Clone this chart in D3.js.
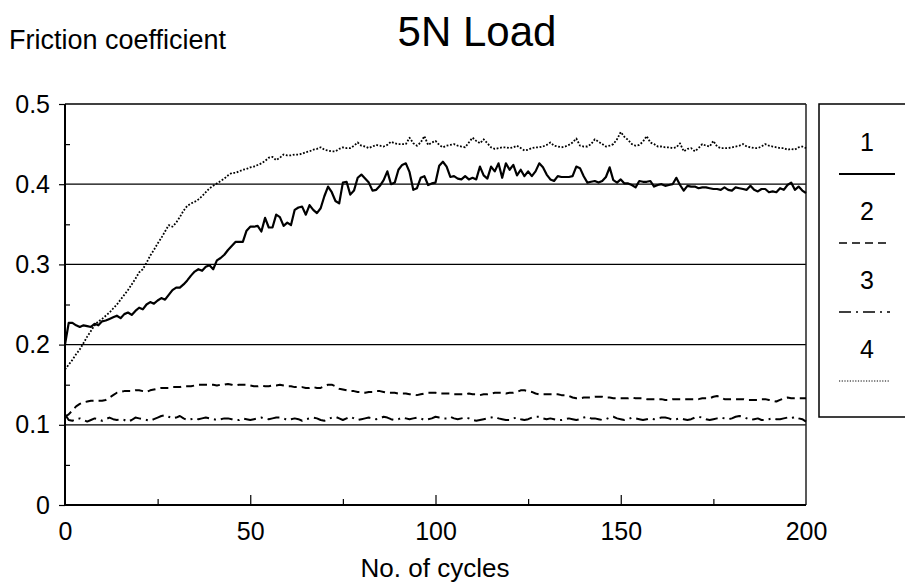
<!DOCTYPE html>
<html><head><meta charset="utf-8">
<script src="https://cdn.jsdelivr.net/npm/d3@7"></script>
<style>body{margin:0;background:#fff}svg{display:block;font-family:"Liberation Sans",Arial,sans-serif}</style>
</head><body><svg id="c" width="905" height="583"></svg>
<script>
const title = "5N Load";
const yTitle = "Friction coefficient";
const xTitle = "No. of cycles";
const xTicks = [0, 50, 100, 150, 200];
const xMinor = [25, 75, 125, 175];
const yTicks = [0, 0.1, 0.2, 0.3, 0.4, 0.5];
const yMinor = [0.05, 0.15, 0.25, 0.35, 0.45];
const gridVals = [0.1, 0.2, 0.3, 0.4];
const seriesNames = ["1", "2", "3", "4"];

// series 1 (solid), one value per cycle 0..200
const s1 = [0.200,0.227,0.227,0.224,0.222,0.224,0.223,0.222,0.226,0.224,0.229,0.230,0.232,0.234,0.236,0.233,0.238,0.240,0.237,0.242,
0.246,0.244,0.250,0.253,0.251,0.255,0.258,0.256,0.262,0.268,0.271,0.271,0.275,0.280,0.286,0.291,0.294,0.292,0.297,0.299,
0.294,0.305,0.308,0.312,0.318,0.323,0.328,0.328,0.328,0.342,0.347,0.347,0.348,0.341,0.358,0.346,0.346,0.362,0.359,0.348,
0.352,0.349,0.368,0.371,0.372,0.362,0.374,0.368,0.364,0.370,0.385,0.397,0.390,0.379,0.376,0.402,0.403,0.387,0.392,0.408,
0.412,0.407,0.402,0.392,0.393,0.398,0.405,0.416,0.400,0.402,0.418,0.424,0.426,0.415,0.393,0.395,0.408,0.410,0.399,0.401,
0.402,0.423,0.428,0.422,0.409,0.410,0.407,0.406,0.410,0.406,0.408,0.406,0.422,0.411,0.407,0.422,0.416,0.426,0.408,0.426,
0.418,0.424,0.411,0.418,0.410,0.416,0.410,0.416,0.426,0.421,0.412,0.406,0.404,0.410,0.409,0.409,0.409,0.410,0.422,0.420,
0.410,0.402,0.403,0.404,0.402,0.404,0.409,0.421,0.405,0.402,0.406,0.401,0.401,0.399,0.396,0.404,0.403,0.403,0.404,0.397,
0.399,0.400,0.398,0.399,0.400,0.408,0.399,0.392,0.398,0.397,0.397,0.395,0.396,0.396,0.395,0.394,0.394,0.393,0.396,0.393,
0.392,0.396,0.395,0.394,0.393,0.398,0.393,0.391,0.394,0.394,0.390,0.391,0.390,0.395,0.393,0.399,0.402,0.393,0.397,0.392,
0.389];
// series 2 (dashed)
const s2 = [0.110,0.113,0.118,0.123,0.126,0.128,0.129,0.130,0.130,0.130,0.130,0.131,0.134,0.137,0.140,0.141,0.142,0.142,0.142,0.143,
0.143,0.142,0.141,0.143,0.144,0.145,0.146,0.146,0.146,0.147,0.147,0.147,0.148,0.148,0.148,0.149,0.150,0.150,0.150,0.150,
0.150,0.149,0.150,0.150,0.151,0.150,0.149,0.150,0.150,0.150,0.149,0.148,0.148,0.149,0.148,0.148,0.149,0.149,0.150,0.149,
0.148,0.148,0.147,0.147,0.147,0.146,0.146,0.147,0.146,0.146,0.148,0.150,0.150,0.148,0.145,0.144,0.143,0.142,0.142,0.141,
0.141,0.140,0.141,0.141,0.142,0.142,0.141,0.140,0.140,0.140,0.139,0.139,0.139,0.138,0.138,0.137,0.138,0.139,0.140,0.140,
0.140,0.139,0.139,0.139,0.139,0.138,0.138,0.138,0.138,0.139,0.138,0.138,0.137,0.138,0.138,0.139,0.140,0.140,0.140,0.139,
0.140,0.140,0.141,0.143,0.143,0.142,0.141,0.139,0.138,0.138,0.138,0.138,0.138,0.138,0.137,0.137,0.136,0.134,0.133,0.133,
0.134,0.134,0.134,0.135,0.135,0.135,0.134,0.134,0.133,0.133,0.133,0.133,0.133,0.134,0.133,0.133,0.133,0.132,0.132,0.132,
0.132,0.132,0.131,0.131,0.132,0.132,0.132,0.132,0.132,0.132,0.132,0.132,0.133,0.133,0.133,0.135,0.136,0.134,0.132,0.132,
0.132,0.132,0.132,0.132,0.131,0.131,0.131,0.131,0.132,0.132,0.131,0.130,0.129,0.131,0.133,0.134,0.133,0.133,0.133,0.133,
0.133];
// series 3 (dash-dot)
const s3 = [0.113,0.106,0.105,0.107,0.108,0.106,0.104,0.106,0.108,0.107,0.105,0.107,0.109,0.107,0.106,0.107,0.106,0.104,0.106,0.109,
0.108,0.107,0.106,0.105,0.107,0.109,0.111,0.112,0.110,0.108,0.109,0.111,0.108,0.106,0.107,0.108,0.107,0.108,0.109,0.108,
0.107,0.106,0.107,0.108,0.108,0.107,0.106,0.106,0.108,0.107,0.106,0.107,0.108,0.109,0.108,0.107,0.108,0.109,0.109,0.108,
0.106,0.107,0.108,0.107,0.105,0.107,0.108,0.109,0.108,0.106,0.105,0.107,0.109,0.110,0.108,0.106,0.108,0.110,0.108,0.106,
0.107,0.108,0.109,0.108,0.107,0.108,0.110,0.109,0.107,0.106,0.107,0.109,0.108,0.107,0.108,0.109,0.108,0.106,0.107,0.108,
0.110,0.109,0.108,0.108,0.110,0.108,0.107,0.108,0.109,0.108,0.106,0.105,0.106,0.107,0.108,0.109,0.110,0.108,0.107,0.106,
0.106,0.108,0.109,0.107,0.106,0.107,0.109,0.110,0.110,0.108,0.107,0.108,0.107,0.106,0.106,0.107,0.108,0.107,0.106,0.107,
0.109,0.110,0.108,0.108,0.107,0.106,0.107,0.109,0.110,0.108,0.107,0.106,0.107,0.109,0.108,0.107,0.106,0.107,0.108,0.107,
0.108,0.109,0.109,0.108,0.106,0.107,0.108,0.107,0.106,0.107,0.109,0.110,0.109,0.107,0.106,0.107,0.108,0.109,0.108,0.107,
0.108,0.110,0.111,0.110,0.108,0.106,0.107,0.108,0.106,0.106,0.107,0.108,0.107,0.107,0.108,0.109,0.108,0.110,0.108,0.107,
0.104];
// series 4 (dotted)
const s4 = [0.169,0.175,0.181,0.188,0.194,0.202,0.210,0.217,0.224,0.229,0.232,0.236,0.240,0.245,0.250,0.256,0.262,0.268,0.275,0.282,
0.290,0.294,0.302,0.311,0.318,0.326,0.333,0.341,0.349,0.347,0.352,0.359,0.367,0.373,0.376,0.378,0.381,0.385,0.390,0.395,
0.398,0.401,0.404,0.407,0.411,0.414,0.414,0.416,0.418,0.419,0.421,0.422,0.424,0.426,0.429,0.433,0.434,0.430,0.433,0.437,
0.436,0.436,0.437,0.437,0.438,0.440,0.441,0.443,0.444,0.446,0.443,0.442,0.441,0.441,0.444,0.446,0.445,0.445,0.448,0.452,
0.448,0.447,0.445,0.447,0.449,0.448,0.447,0.449,0.453,0.451,0.450,0.450,0.450,0.458,0.451,0.448,0.452,0.460,0.449,0.452,
0.454,0.449,0.446,0.448,0.449,0.450,0.448,0.447,0.446,0.452,0.458,0.454,0.451,0.456,0.451,0.446,0.444,0.445,0.446,0.446,
0.445,0.446,0.448,0.445,0.442,0.443,0.445,0.446,0.446,0.447,0.449,0.452,0.448,0.447,0.446,0.447,0.449,0.452,0.457,0.448,
0.447,0.447,0.450,0.456,0.453,0.450,0.447,0.448,0.450,0.456,0.465,0.459,0.455,0.450,0.448,0.449,0.453,0.460,0.452,0.450,
0.447,0.447,0.446,0.446,0.445,0.446,0.451,0.441,0.444,0.445,0.441,0.445,0.450,0.448,0.447,0.454,0.447,0.445,0.445,0.445,
0.446,0.447,0.448,0.450,0.447,0.446,0.445,0.445,0.447,0.450,0.448,0.447,0.446,0.445,0.445,0.443,0.444,0.443,0.446,0.447,
0.445];

const series = [s1, s2, s3, s4];
const dashes = [null, "8,5", "12,5,2,5", "1.8,1.7"];
const widths = [2.2, 2, 2, 1.8];

const svg = d3.select("#c");
const x = d3.scaleLinear().domain([0, 200]).range([65, 806]);
const y = d3.scaleLinear().domain([0, 0.5]).range([505, 104]);

// gridlines
svg.append("g").selectAll("line").data(gridVals).join("line")
  .attr("x1", x(0)).attr("x2", x(200)).attr("y1", d => y(d)).attr("y2", d => y(d))
  .attr("stroke", "#000").attr("stroke-width", 1.2);

// frame top & right
svg.append("line").attr("x1", x(0)).attr("x2", x(200)).attr("y1", y(0.5)).attr("y2", y(0.5)).attr("stroke", "#000").attr("stroke-width", 1.5);
svg.append("line").attr("x1", x(200)).attr("x2", x(200)).attr("y1", y(0.5)).attr("y2", y(0)).attr("stroke", "#222").attr("stroke-width", 1.5);

// axes
const fontTick = 25;
const yAx = svg.append("g").attr("transform", `translate(${x(0)},0)`)
  .call(d3.axisLeft(y).tickValues(yTicks).tickFormat(d3.format("~g")).tickSize(6).tickPadding(9));
const yAxMin = svg.append("g").attr("transform", `translate(${x(0)},0)`)
  .call(d3.axisLeft(y).tickValues(yMinor).tickFormat("").tickSize(-5));
const xAx = svg.append("g").attr("transform", `translate(0,${y(0)})`)
  .call(d3.axisBottom(x).tickValues(xTicks).tickFormat(d3.format("d")).tickSize(0).tickPadding(17));
const xAxMaj = svg.append("g").attr("transform", `translate(0,${y(0)})`)
  .call(d3.axisBottom(x).tickValues(xTicks.slice(1, -1)).tickFormat("").tickSize(-10));
const xAxMin = svg.append("g").attr("transform", `translate(0,${y(0)})`)
  .call(d3.axisBottom(x).tickValues(xMinor).tickFormat("").tickSize(-6));
[yAx, yAxMin, xAx, xAxMaj, xAxMin].forEach(g => {
  g.selectAll(".domain").attr("stroke", "#000").attr("stroke-width", 2);
  g.selectAll(".tick line").attr("stroke", "#000").attr("stroke-width", 1.2);
  g.selectAll("text").attr("font-size", fontTick).attr("fill", "#000").attr("font-family", "Liberation Sans, Arial, sans-serif");
});
yAxMin.select(".domain").remove();
xAxMaj.select(".domain").remove();
xAxMin.select(".domain").remove();
yAx.select(".domain").attr("d", `M0,${y(0.5)}V${y(0)}`);
xAx.select(".domain").attr("d", `M${x(0)},0H${x(200)}`);

// lines
const line = d3.line().x((d, i) => x(i)).y(d => y(d));
series.forEach((s, k) => {
  svg.append("path").datum(s).attr("d", line)
    .attr("fill", "none").attr("stroke", "#000").attr("stroke-width", widths[k])
    .attr("stroke-linejoin", "round")
    .attr("stroke-dasharray", dashes[k]);
});

// titles
svg.append("text").attr("x", 477).attr("y", 46).attr("text-anchor", "middle")
  .attr("font-size", 42).text(title);
svg.append("text").attr("x", 9).attr("y", 49).attr("font-size", 27).text(yTitle);
svg.append("text").attr("x", 435).attr("y", 577).attr("text-anchor", "middle")
  .attr("font-size", 26).text(xTitle);

// legend
const lg = svg.append("g");
lg.append("rect").attr("x", 819).attr("y", 104).attr("width", 120).attr("height", 313)
  .attr("fill", "none").attr("stroke", "#000").attr("stroke-width", 1.5);
const ly = d3.scaleLinear().domain([0, 3]).range([151, 358]);
seriesNames.forEach((n, k) => {
  lg.append("text").attr("x", 867).attr("y", ly(k)).attr("text-anchor", "middle")
    .attr("font-size", 25).text(n);
  lg.append("line").attr("x1", 839).attr("x2", k === 0 ? 895 : 890).attr("y1", ly(k) + 23).attr("y2", ly(k) + 23)
    .attr("stroke", "#000").attr("stroke-width", k === 0 ? 2 : (k === 3 ? 1 : 1.5))
    .attr("stroke-dasharray", k === 0 ? null : (k === 3 ? "1.2,1.5" : dashes[k]));
});
</script></body></html>
